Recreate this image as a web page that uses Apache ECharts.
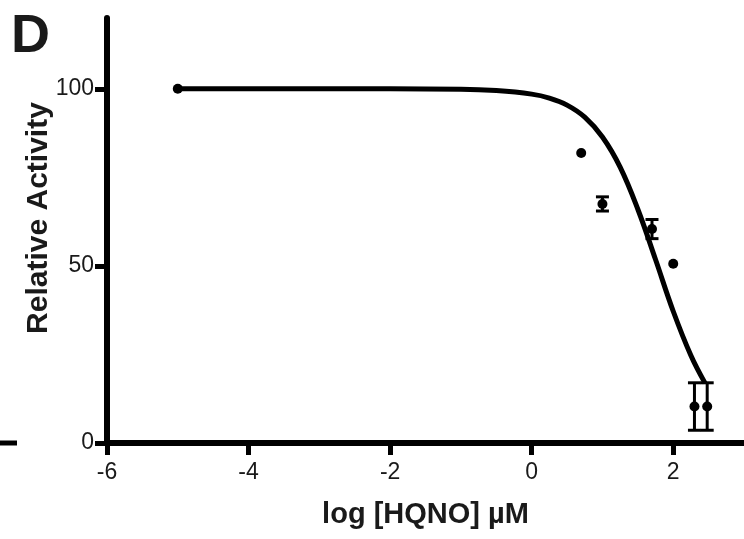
<!DOCTYPE html>
<html>
<head>
<meta charset="utf-8">
<script src="https://cdn.jsdelivr.net/npm/echarts@6/dist/echarts.min.js"></script>
<style>html,body{margin:0;padding:0;background:#fff}#c{width:744px;height:539px}</style>
</head>
<body>
<div id="c"></div>
<script>
// Measured points: log[HQNO] (µM), mean relative activity, error (±)
const pointX = [-5, 0.7, 1.0, 1.7, 2.0, 2.3, 2.48];
const pointY = [100, 81.9, 67.5, 60.4, 50.6, 10.3, 10.3];
const pointErr = [0, 0, 2.0, 2.7, 0, 6.7, 6.7];

// Fitted curve
const curveX = [-5, -4, -3, -2, -1, -0.5, 0, 0.25, 0.5, 0.75, 1.0, 1.25, 1.5, 1.75, 2.0, 2.25, 2.45];
const curveY = [100, 100, 100, 100, 99.9, 99.5, 98.5, 97.4, 95.4, 92.0, 86.4, 77.9, 66.0, 51.8, 37.2, 24.7, 16.9];

const xTicks = [-6, -4, -2, 0, 2];
const yTicks = [0, 50, 100];

const font = '"Liberation Sans", Arial, Helvetica, sans-serif';

const chart = echarts.init(document.getElementById('c'), null, {renderer: 'canvas'});

const scatterData = pointX.map((x, i) => [x, pointY[i]]);
const errData = pointX.map((x, i) => [x, pointY[i] - pointErr[i], pointY[i] + pointErr[i]]).filter((d, i) => pointErr[i] > 0);
const curveData = curveX.map((x, i) => [x, curveY[i]]);

chart.setOption({
  animation: false,
  backgroundColor: '#fff',
  grid: {left: 107, right: 0, top: 18, bottom: 96, containLabel: false},
  graphic: [
    {type: 'text', left: 11, top: 10, style: {text: 'D', font: 'bold 54px ' + font, fill: '#1a1a1a'}},
    {type: 'line', shape: {x1: 0, y1: 443, x2: 17, y2: 443}, style: {stroke: '#000', lineWidth: 5}},
    {type: 'text', x: 39, y: 218, rotation: Math.PI / 2,
     style: {text: 'Relative Activity', font: 'bold 30px ' + font, fill: '#1a1a1a', align: 'center', verticalAlign: 'middle'}}
  ],
  xAxis: {
    type: 'value', min: -6, max: 3,
    name: 'log [HQNO] µM', nameLocation: 'middle', nameGap: 57,
    nameTextStyle: {fontFamily: font, fontSize: 29, fontWeight: 'bold', color: '#1a1a1a'},
    axisLine: {onZero: false, lineStyle: {color: '#000', width: 6}},
    axisTick: {show: true, length: 12, lineStyle: {color: '#000', width: 5}, customValues: xTicks},
    axisLabel: {fontFamily: font, fontSize: 23, color: '#1a1a1a', margin: 18, customValues: xTicks},
    splitLine: {show: false}
  },
  yAxis: {
    type: 'value', min: 0, max: 120,
    axisLine: {onZero: false, lineStyle: {color: '#000', width: 6}},
    axisTick: {show: true, length: 12, lineStyle: {color: '#000', width: 5}, customValues: yTicks},
    axisLabel: {fontFamily: font, fontSize: 23, color: '#1a1a1a', margin: 13, customValues: yTicks},
    splitLine: {show: false}
  },
  series: [
    {
      type: 'line', data: curveData, smooth: 0.4, showSymbol: false, symbol: 'none',
      lineStyle: {color: '#000', width: 5}, z: 3
    },
    {
      type: 'custom', data: errData, z: 4,
      renderItem: function (params, api) {
        const x = api.value(0);
        const lo = api.coord([x, api.value(1)]);
        const hi = api.coord([x, api.value(2)]);
        const hw = 6.5;
        const st = {stroke: '#000', lineWidth: 3};
        return {type: 'group', children: [
          {type: 'line', shape: {x1: lo[0], y1: lo[1], x2: hi[0], y2: hi[1]}, style: st},
          {type: 'line', shape: {x1: lo[0] - hw, y1: lo[1], x2: lo[0] + hw, y2: lo[1]}, style: st},
          {type: 'line', shape: {x1: hi[0] - hw, y1: hi[1], x2: hi[0] + hw, y2: hi[1]}, style: st}
        ]};
      }
    },
    {
      type: 'scatter', data: scatterData, symbol: 'circle', symbolSize: 10,
      itemStyle: {color: '#000', opacity: 1}, z: 5
    }
  ]
});
</script>
</body>
</html>
